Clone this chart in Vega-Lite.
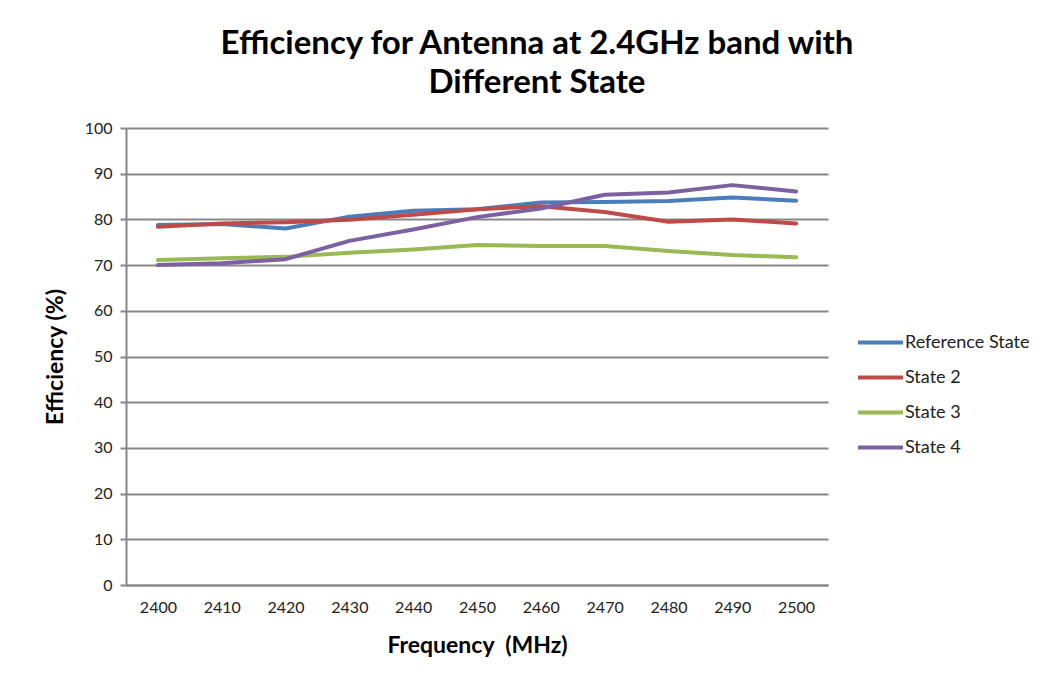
{
  "$schema": "https://vega.github.io/schema/vega-lite/v6.json",
  "width": 702,
  "height": 457,
  "autosize": "none",
  "padding": {"left": 126, "top": 128, "right": 229, "bottom": 99},
  "background": "white",
  "title": {
    "text": ["Efficiency for Antenna at 2.4GHz band with", "Different State"],
    "font": "Lato",
    "fontSize": 33,
    "fontWeight": "bold",
    "color": "#000000",
    "anchor": "middle",
    "dx": 60,
    "offset": 20,
    "lineHeight": 39
  },
  "data": {
    "values": [
      {"f": 2400, "s": "Reference State", "v": 78.8},
      {"f": 2410, "s": "Reference State", "v": 79.0},
      {"f": 2420, "s": "Reference State", "v": 78.0},
      {"f": 2430, "s": "Reference State", "v": 80.6},
      {"f": 2440, "s": "Reference State", "v": 81.9},
      {"f": 2450, "s": "Reference State", "v": 82.2},
      {"f": 2460, "s": "Reference State", "v": 83.7},
      {"f": 2470, "s": "Reference State", "v": 83.8},
      {"f": 2480, "s": "Reference State", "v": 84.0},
      {"f": 2490, "s": "Reference State", "v": 84.8},
      {"f": 2500, "s": "Reference State", "v": 84.1},
      {"f": 2400, "s": "State 2", "v": 78.4},
      {"f": 2410, "s": "State 2", "v": 79.1},
      {"f": 2420, "s": "State 2", "v": 79.4},
      {"f": 2430, "s": "State 2", "v": 79.9},
      {"f": 2440, "s": "State 2", "v": 81.0},
      {"f": 2450, "s": "State 2", "v": 82.2},
      {"f": 2460, "s": "State 2", "v": 82.9},
      {"f": 2470, "s": "State 2", "v": 81.6},
      {"f": 2480, "s": "State 2", "v": 79.5},
      {"f": 2490, "s": "State 2", "v": 80.0},
      {"f": 2500, "s": "State 2", "v": 79.1},
      {"f": 2400, "s": "State 3", "v": 71.1},
      {"f": 2410, "s": "State 3", "v": 71.5},
      {"f": 2420, "s": "State 3", "v": 71.8},
      {"f": 2430, "s": "State 3", "v": 72.7},
      {"f": 2440, "s": "State 3", "v": 73.4},
      {"f": 2450, "s": "State 3", "v": 74.4},
      {"f": 2460, "s": "State 3", "v": 74.2},
      {"f": 2470, "s": "State 3", "v": 74.2},
      {"f": 2480, "s": "State 3", "v": 73.1},
      {"f": 2490, "s": "State 3", "v": 72.2},
      {"f": 2500, "s": "State 3", "v": 71.7},
      {"f": 2400, "s": "State 4", "v": 70.0},
      {"f": 2410, "s": "State 4", "v": 70.4},
      {"f": 2420, "s": "State 4", "v": 71.3},
      {"f": 2430, "s": "State 4", "v": 75.3},
      {"f": 2440, "s": "State 4", "v": 77.8},
      {"f": 2450, "s": "State 4", "v": 80.5},
      {"f": 2460, "s": "State 4", "v": 82.4},
      {"f": 2470, "s": "State 4", "v": 85.4},
      {"f": 2480, "s": "State 4", "v": 85.9},
      {"f": 2490, "s": "State 4", "v": 87.5},
      {"f": 2500, "s": "State 4", "v": 86.1}
    ]
  },
  "mark": {"type": "line", "strokeWidth": 4, "strokeCap": "round", "strokeJoin": "round"},
  "encoding": {
    "x": {
      "field": "f",
      "type": "ordinal",
      "scale": {"type": "point", "padding": 0.5},
      "axis": {
        "title": "Frequency \u00a0(MHz)",
        "titleFont": "Lato",
        "titleFontSize": 23,
        "titleFontWeight": "bold",
        "titleColor": "#000000",
        "titlePadding": 19,
        "labelFont": "Lato",
        "labelFontSize": 16,
        "labelColor": "#222222",
        "labelAngle": 0,
        "labelPadding": 14,
        "ticks": false,
        "domainColor": "#878787",
        "domainWidth": 2,
        "grid": false
      }
    },
    "y": {
      "field": "v",
      "type": "quantitative",
      "scale": {"domain": [0, 100], "nice": false},
      "axis": {
        "title": "Efficiency (%)",
        "titleFont": "Lato",
        "titleFontSize": 23,
        "titleFontWeight": "bold",
        "titleColor": "#000000",
        "titlePadding": 17,
        "values": [0, 10, 20, 30, 40, 50, 60, 70, 80, 90, 100],
        "labelFont": "Lato",
        "labelFontSize": 16,
        "labelColor": "#222222",
        "labelPadding": 8,
        "tickSize": 6,
        "tickColor": "#878787",
        "tickWidth": 2,
        "domainColor": "#878787",
        "domainWidth": 2,
        "grid": true,
        "gridColor": "#878787",
        "gridWidth": 2
      }
    },
    "color": {
      "field": "s",
      "type": "nominal",
      "scale": {
        "domain": ["Reference State", "State 2", "State 3", "State 4"],
        "range": ["#4A7EBB", "#BE4B48", "#98B954", "#7D60A0"]
      },
      "legend": {
        "title": null,
        "orient": "none",
        "legendX": 730,
        "legendY": 190,
        "symbolType": "stroke",
        "symbolSize": 2025,
        "symbolStrokeWidth": 4,
        "labelFont": "Lato",
        "labelFontSize": 18,
        "labelColor": "#222222",
        "labelOffset": 0,
        "rowPadding": 1
      }
    }
  },
  "config": {
    "view": {"stroke": null}
  }
}
